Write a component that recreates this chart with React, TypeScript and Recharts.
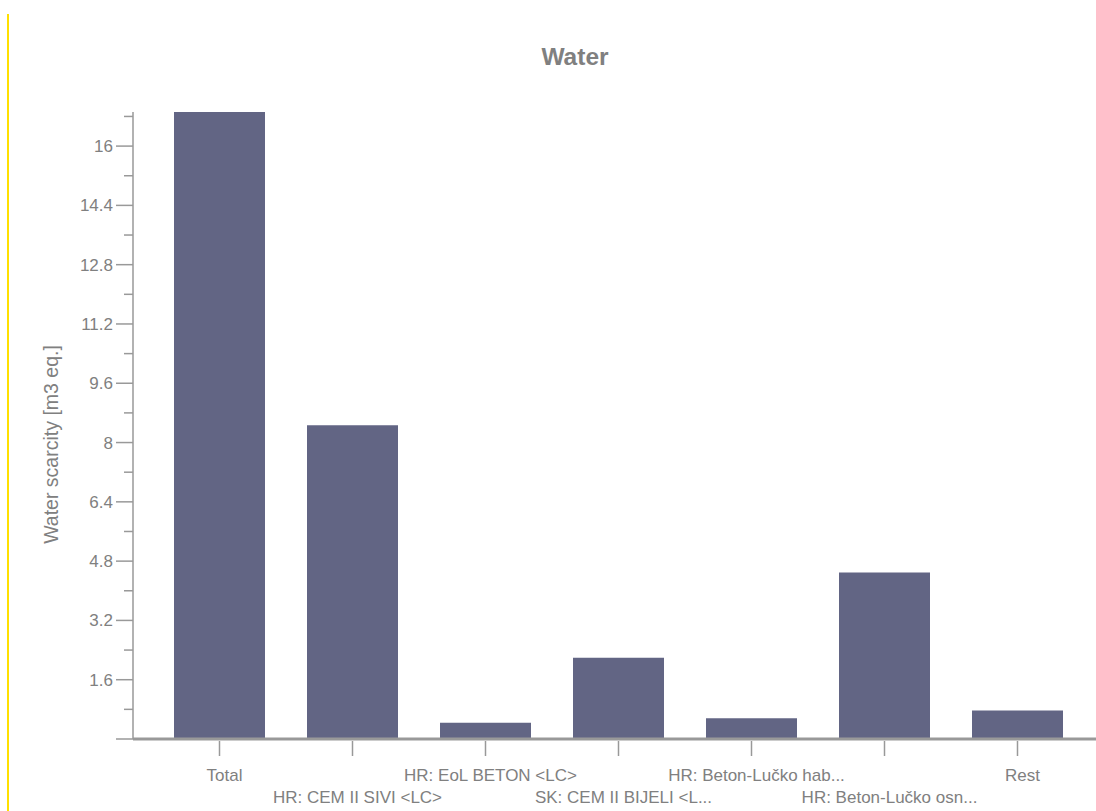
import React from 'react'
import { BarChart, Bar, XAxis, YAxis } from 'recharts'

const categories = [
  'Total',
  'HR: CEM II SIVI <LC>',
  'HR: EoL BETON <LC>',
  'SK: CEM II BIJELI <L...',
  'HR: Beton-Lučko hab...',
  'HR: Beton-Lučko osn...',
  'Rest',
]
const waterValues = [16.92, 8.47, 0.44, 2.19, 0.56, 4.49, 0.77]
const yTicks = [
  0, 0.8, 1.6, 2.4, 3.2, 4, 4.8, 5.6, 6.4, 7.2, 8, 8.8, 9.6, 10.4, 11.2, 12, 12.8, 13.6, 14.4,
  15.2, 16, 16.8,
]
const yMax = 16.92

const data = categories.map((name, i) => ({ name, value: waterValues[i] }))

const GREY = '#808080'
const AXIS = '#999999'
const FONT = '"Liberation Sans", Arial, sans-serif'

const YTick = ({ x, y, payload, index }: any) => {
  const major = index % 2 === 0
  return (
    <g>
      <line x1={x - (major ? 17 : 9)} x2={x} y1={y} y2={y} stroke={AXIS} strokeWidth={1.5} />
      {major && payload.value !== 0 && (
        <text x={x - 20} y={y} dy={6} textAnchor="end" fill={GREY} fontSize={17} fontFamily={FONT}>
          {payload.value}
        </text>
      )}
    </g>
  )
}

const XTick = ({ x, y, payload, index }: any) => {
  const row = index % 2
  return (
    <g>
      <line x1={x} x2={x} y1={y + 2} y2={y + 17} stroke={AXIS} strokeWidth={1.5} />
      <text
        x={x + 5}
        y={y + 42 + row * 22}
        textAnchor="middle"
        fill={GREY}
        fontSize={17}
        fontFamily={FONT}
      >
        {payload.value}
      </text>
    </g>
  )
}

const YLabel = ({ viewBox }: any) => {
  const cx = 58
  const cy = viewBox.y + viewBox.height / 2 + 19
  return (
    <text
      x={cx}
      y={cy}
      transform={`rotate(-90, ${cx}, ${cy})`}
      textAnchor="middle"
      fill={GREY}
      fontSize={19.5}
      fontFamily={FONT}
    >
      Water scarcity [m3 eq.]
    </text>
  )
}

export default function App() {
  return (
    <div style={{ position: 'absolute', left: 0, top: 0, width: 1096, height: 811, background: '#fff' }}>
      <div style={{ position: 'absolute', left: 7, top: 14, width: 2, height: 797, background: '#ffe000' }} />
      <div
        style={{
          position: 'absolute',
          left: 0,
          width: 1150,
          top: 43,
          textAlign: 'center',
          fontFamily: FONT,
          fontWeight: 'bold',
          fontSize: 24.5,
          color: GREY,
        }}
      >
        Water
      </div>
      <BarChart
        width={1096}
        height={811}
        data={data}
        margin={{ top: 112, right: 0, bottom: 0, left: 0 }}
        style={{ position: 'absolute', left: 0, top: 0 }}
      >
        <XAxis
          dataKey="name"
          interval={0}
          padding={{ left: 20, right: 12 }}
          axisLine={{ stroke: AXIS, strokeWidth: 3 }}
          tickLine={false}
          tickSize={0}
          tickMargin={0}
          tick={<XTick />}
          height={72}
        />
        <YAxis
          width={133}
          domain={[0, yMax]}
          ticks={yTicks}
          interval={0}
          axisLine={{ stroke: AXIS, strokeWidth: 1.5 }}
          tickLine={false}
          tickSize={0}
          tickMargin={0}
          tick={<YTick />}
          label={<YLabel />}
        />
        <Bar dataKey="value" fill="#626584" barSize={91} isAnimationActive={false} />
      </BarChart>
    </div>
  )
}
